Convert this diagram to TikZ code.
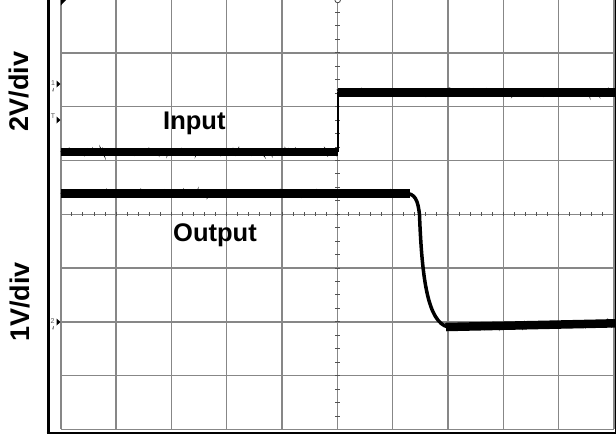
\documentclass[tikz,border=0pt]{standalone}
\usepackage{fontspec}
\setmainfont{Liberation Sans}
\usepackage{xcolor}
\usepackage{tikz}
\usetikzlibrary{positioning,calc,decorations.pathmorphing,arrows.meta}
\definecolor{ScopeGrid}{RGB}{135,135,135}
\tikzset{
    gridline/.style={draw=ScopeGrid, line width=1.4pt},
    tickmark/.style={draw=ScopeGrid!60!black, line width=0.9pt},
    frameline/.style={draw=black, line width=3pt},
    trace/.style={draw=black, line width=8.5pt},
    tracenoise/.style={draw=black, line width=1.2pt, decorate, decoration={random steps, segment length=1.2pt, amplitude=3pt}},
    edgeline/.style={draw=black, line width=2.2pt},
    scalelabel/.style={rotate=90, inner sep=0pt, font=\fontsize{27}{27}\selectfont\bfseries},
    tracelabel/.style={inner sep=0pt, anchor=base west, font=\fontsize{25.5}{25.5}\selectfont\bfseries},
    markerlabel/.style={inner sep=0pt, text=black!65, font=\fontsize{7}{7}\selectfont}
}

\begin{document}
\begin{tikzpicture}[x=1pt, y=-1pt]
    \pgfmathsetseed{7}
    \useasboundingbox (0,0) rectangle (616,437);
    \clip (0,0) rectangle (616,437);
    \foreach \i in {0,...,10}
        \draw[gridline] ({60.8+55.3*\i},0) -- ({60.8+55.3*\i},429.4);
    \foreach \j in {1,...,8}
        \draw[gridline] (60.8,{-1+53.8*\j}) -- (613.8,{-1+53.8*\j});
    \foreach \k in {1,...,49}
        \draw[tickmark] ({60.8+11.06*\k},212) -- ({60.8+11.06*\k},216.4);
    \foreach \k in {1,...,31}
        \draw[tickmark] (335.1,{-1+13.45*\k}) -- (339.5,{-1+13.45*\k});
    \draw[frameline] (48,0) -- (48,434);
    \draw[line width=2pt] (46.5,432.6) -- (616,432.6);
    \draw[line width=1.5pt] (615.3,0) -- (615.3,433.5);
    \fill (60.8,0) -- (66,0) -- (60.8,5.5) -- cycle;
    \draw[ScopeGrid!50!black, line width=0.8pt, fill=white] (337.7,0) circle (2.8);
    \draw[trace] (60.8,151.8) -- (337.7,151.8);
    \draw[tracenoise] (60.8,151.8) -- (337.7,151.8);
    \draw[edgeline] (337.7,152) -- (337.7,92.3);
    \draw[trace] (337.7,92.3) -- (616,92.3);
    \draw[tracenoise] (337.7,92.3) -- (616,92.3);
    \draw[trace] (60.8,193.3) -- (410,193.3);
    \draw[tracenoise] (60.8,193.3) -- (410,193.3);
    \draw[line width=3.5pt] (405,193.3) .. controls (415,193.3) and (418,200) .. (419.5,215) .. controls (422,280) and (428,322) .. (448,327);
    \draw[trace] (446,327) -- (616,323.3);
    \draw[tracenoise] (446,327) -- (616,323.3);
    \node[scalelabel] (scaletop) at (19,91.5) {2V/div};
    \node[scalelabel] (scalebottom) at (19.5,302) {1V/div};
    \node[tracelabel] (input) at (163,129.5) {Input};
    \node[tracelabel] (output) at (173,241.8) {Output};
    \node[markerlabel] (chone) at (53,83) {1};
    \fill (56.5,80.5) -- (60.5,84) -- (56.5,87.5) -- cycle;
    \draw[black!50, line width=0.8pt, -{Stealth[length=2.5pt]}] (53,87.5) -- (53,92);
    \node[markerlabel] (trig) at (53,116) {T};
    \fill (56.5,116.5) -- (60.5,120) -- (56.5,123.5) -- cycle;
    \node[markerlabel] (chtwo) at (52.5,321) {2};
    \fill (56.5,318.5) -- (60.5,322) -- (56.5,325.5) -- cycle;
    \draw[black!50, line width=0.8pt, -{Stealth[length=2.5pt]}] (53,325.5) -- (53,330);
\end{tikzpicture}
\end{document}
